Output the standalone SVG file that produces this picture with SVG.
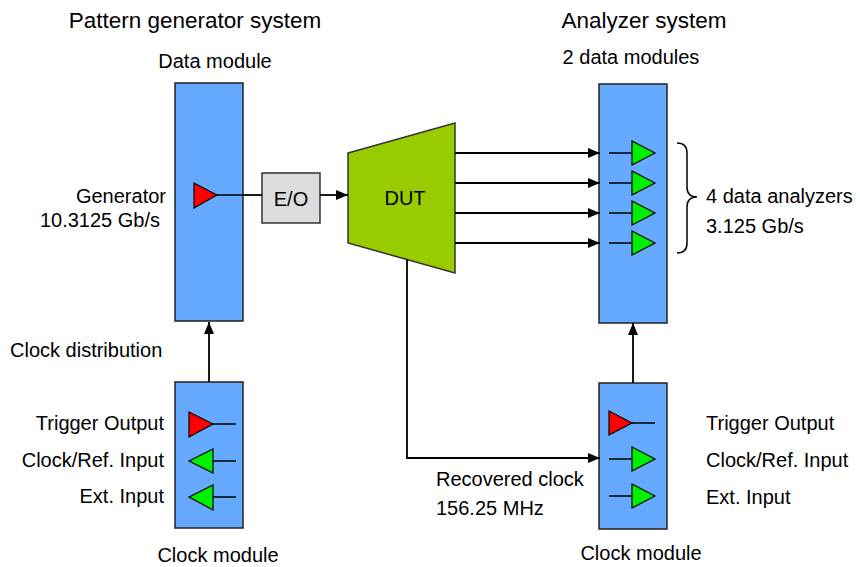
<svg xmlns="http://www.w3.org/2000/svg" width="860" height="567" viewBox="0 0 860 567">
<defs>
<marker id="ah" viewBox="0 0 12 10" refX="12" refY="5" markerWidth="12" markerHeight="10" markerUnits="userSpaceOnUse" orient="auto">
<path d="M0,0 L12,5 L0,10 z" fill="#000"/>
</marker>
</defs>
<style>
text{font-family:"Liberation Sans",Arial,sans-serif;fill:#000;font-size:20px}
.title{font-size:22.5px}
.mod{fill:#66aaff;stroke:#222;stroke-width:1.5}
.red{fill:#ff0000;stroke:#000;stroke-width:1.2}
.grn{fill:#00ee00;stroke:#000;stroke-width:1.2}
.ln{stroke:#000;stroke-width:1.5;fill:none}
.con{stroke:#000;stroke-width:1.8;fill:none}
</style>
<rect width="860" height="567" fill="#fff"/>
<text class="title" x="195" y="28" text-anchor="middle">Pattern generator system</text>
<text class="title" x="644" y="28" text-anchor="middle">Analyzer system</text>

<g id="data-module-left">
<rect class="mod" x="175" y="83" width="68" height="238"/>
<text x="215" y="68" text-anchor="middle">Data module</text>
<path class="ln" d="M217,195 H243"/>
<polygon class="red" points="194,183 217,195 194,208"/>
<text x="166" y="203" text-anchor="end">Generator</text>
<text x="160" y="227" text-anchor="end">10.3125 Gb/s</text>
</g>

<g id="clock-module-left">
<rect class="mod" x="175" y="382" width="68" height="146"/>
<path class="ln" d="M213,424 H236 M213,461 H236 M213,497 H236"/>
<polygon class="red" points="189,412 213,424 189,437"/>
<polygon class="grn" points="189,461 213,449 213,473"/>
<polygon class="grn" points="189,497 213,485 213,510"/>
<text x="164" y="430" text-anchor="end">Trigger Output</text>
<text x="164" y="467" text-anchor="end">Clock/Ref. Input</text>
<text x="164" y="503" text-anchor="end">Ext. Input</text>
<text x="218" y="562" text-anchor="middle">Clock module</text>
</g>

<g id="eo">
<rect x="262" y="173" width="58" height="50" fill="#dcdcdc" stroke="#333" stroke-width="1.5"/>
<text x="291" y="206" text-anchor="middle">E/O</text>
</g>

<g id="dut">
<polygon points="348,153 455,123 455,273 348,243" fill="#99cc00" stroke="#333" stroke-width="1.5"/>
<text x="405" y="205" text-anchor="middle">DUT</text>
</g>

<g id="data-module-right">
<rect class="mod" x="599" y="84" width="68" height="239"/>
<text x="631" y="64" text-anchor="middle">2 data modules</text>
<path class="ln" d="M609,153 H632 M609,183 H632 M609,213 H632 M609,243 H632"/>
<polygon class="grn" points="632,141 655,153 632,165"/>
<polygon class="grn" points="632,171 655,183 632,195"/>
<polygon class="grn" points="632,201 655,213 632,225"/>
<polygon class="grn" points="632,231 655,243 632,255"/>
</g>

<g id="brace">
<path class="ln" stroke-width="1.2" d="M677,143 Q687,143 687,153 V187 Q687,197 697,197 Q687,197 687,207 V243 Q687,253 677,253"/>
<text x="706" y="203">4 data analyzers</text>
<text x="706" y="233">3.125 Gb/s</text>
</g>

<g id="clock-module-right">
<rect class="mod" x="599" y="383" width="68" height="146"/>
<path class="ln" d="M632,423 H655 M609,459 H632 M609,496 H632"/>
<polygon class="red" points="609,411 632,423 609,435"/>
<polygon class="grn" points="632,447 655,459 632,471"/>
<polygon class="grn" points="632,484 655,496 632,508"/>
<text x="706" y="430">Trigger Output</text>
<text x="706" y="467">Clock/Ref. Input</text>
<text x="706" y="504">Ext. Input</text>
<text x="641" y="560" text-anchor="middle">Clock module</text>
</g>

<g id="connectors">
<path class="con" d="M243,195 H262"/>
<path class="con" d="M320,195 H348" marker-end="url(#ah)"/>
<path class="con" d="M455,153 H600" marker-end="url(#ah)"/>
<path class="con" d="M455,183 H600" marker-end="url(#ah)"/>
<path class="con" d="M455,213 H600" marker-end="url(#ah)"/>
<path class="con" d="M455,243 H600" marker-end="url(#ah)"/>
<path class="con" d="M209,382 V322" marker-end="url(#ah)"/>
<path class="con" d="M633,383 V323" marker-end="url(#ah)"/>
<path class="con" d="M407,259 V458 H600" marker-end="url(#ah)"/>
<text x="436" y="486">Recovered clock</text>
<text x="436" y="515">156.25 MHz</text>
<text x="10" y="357">Clock distribution</text>
</g>
</svg>
